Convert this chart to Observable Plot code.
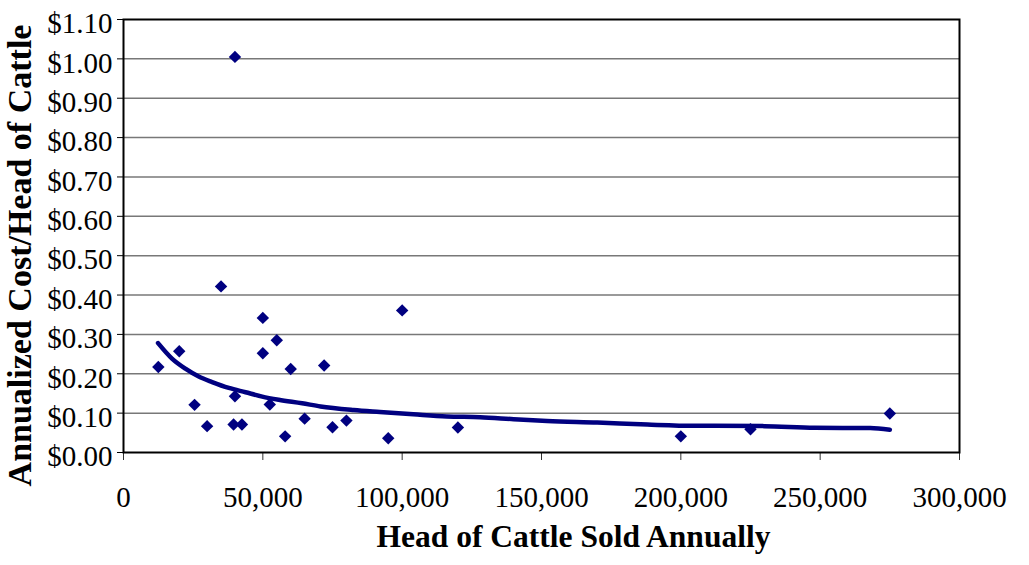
<!DOCTYPE html>
<html><head><meta charset="utf-8">
<script src="https://cdn.jsdelivr.net/npm/d3@7"></script>
<script src="https://cdn.jsdelivr.net/npm/@observablehq/plot@0.6"></script>
<style>html,body{margin:0;padding:0;background:#fff} svg{display:block}</style>
</head><body><div id="chart"></div>
<script>
// Scatter data: head of cattle sold annually vs annualized cost per head
const headsSold = [12500, 20000, 25500, 30000, 35000, 40000, 39500, 42500, 40000, 50000, 50000, 55000, 52500, 60000, 58000, 65000, 72000, 75000, 80000, 95000, 100000, 120000, 200000, 225000, 275000];
const costPerHead = [0.217, 0.257, 0.121, 0.067, 0.422, 0.143, 0.071, 0.071, 1.005, 0.342, 0.252, 0.285, 0.122, 0.212, 0.041, 0.086, 0.221, 0.064, 0.081, 0.036, 0.361, 0.0635, 0.041, 0.059, 0.099];
// Trend line
const trendHeads = [12400, 17500, 22200, 27000, 31800, 37800, 43800, 49800, 55700, 64100, 70700, 82600, 92000, 104000, 116000, 128000, 140000, 152000, 170000, 188000, 205000, 212000, 230000, 248000, 268000, 275000];
const trendCost = [0.278, 0.238, 0.213, 0.193, 0.179, 0.164, 0.153, 0.142, 0.134, 0.125, 0.117, 0.108, 0.103, 0.097, 0.0915, 0.0897, 0.0846, 0.080, 0.076, 0.071, 0.068, 0.068, 0.067, 0.063, 0.062, 0.058];
const xTicks = [0, 50000, 100000, 150000, 200000, 250000, 300000];
const yTicks = [0, 0.1, 0.2, 0.3, 0.4, 0.5, 0.6, 0.7, 0.8, 0.9, 1.0, 1.1];
const xTitle = "Head of Cattle Sold Annually";
const yTitle = "Annualized Cost/Head of Cattle";

const points = headsSold.map((x, i) => ({x, y: costPerHead[i]}));
const trend = trendHeads.map((x, i) => ({x, y: trendCost[i]}));
const font = "'Liberation Serif', 'Times New Roman', serif";
const navy = "#000080";

const chart = Plot.plot({
  width: 1029, height: 565,
  marginLeft: 123, marginRight: 70, marginTop: 19, marginBottom: 113,
  style: {fontFamily: font, background: "#fff", color: "#000"},
  x: {domain: [0, 300000]},
  y: {domain: [0, 1.1]},
  marks: [
    Plot.gridY(yTicks.slice(1, -1), {stroke: "#787878", strokeOpacity: 1, strokeWidth: 1.5}),
    Plot.axisX(xTicks, {tickSize: 8, fill: "none", stroke: "#333", label: null}),
    Plot.axisX(xTicks, {tickSize: 8, tickPadding: 26, stroke: "none", fill: "#000", fontSize: 29, tickFormat: d3.format(","), label: null}),
    Plot.axisY(yTicks, {tickSize: 6, fill: "none", stroke: "#000", label: null}),
    Plot.axisY(yTicks, {tickSize: 6, tickPadding: 5, dy: 4.5, stroke: "none", fill: "#000", fontSize: 29, tickFormat: d => "$" + d.toFixed(2), label: null}),
    Plot.frame({stroke: "#000", strokeWidth: 2}),
    Plot.line(trend, {x: "x", y: "y", stroke: navy, strokeWidth: 4.5, curve: "monotone-x"}),
    Plot.dot(points, {x: "x", y: "y", symbol: "diamond2", r: 5.6, fill: navy, stroke: "none"}),
    Plot.text([xTitle], {frameAnchor: "bottom", dx: 32, dy: 94, fontSize: 31.5, fontWeight: "bold", fill: "#000"}),
    Plot.text([yTitle], {frameAnchor: "left", textAnchor: "middle", rotate: -90, dx: -103, dy: 19.5, fontSize: 34, fontWeight: "bold", fill: "#000"})
  ]
});
document.getElementById("chart").append(chart);
</script>
</body></html>
